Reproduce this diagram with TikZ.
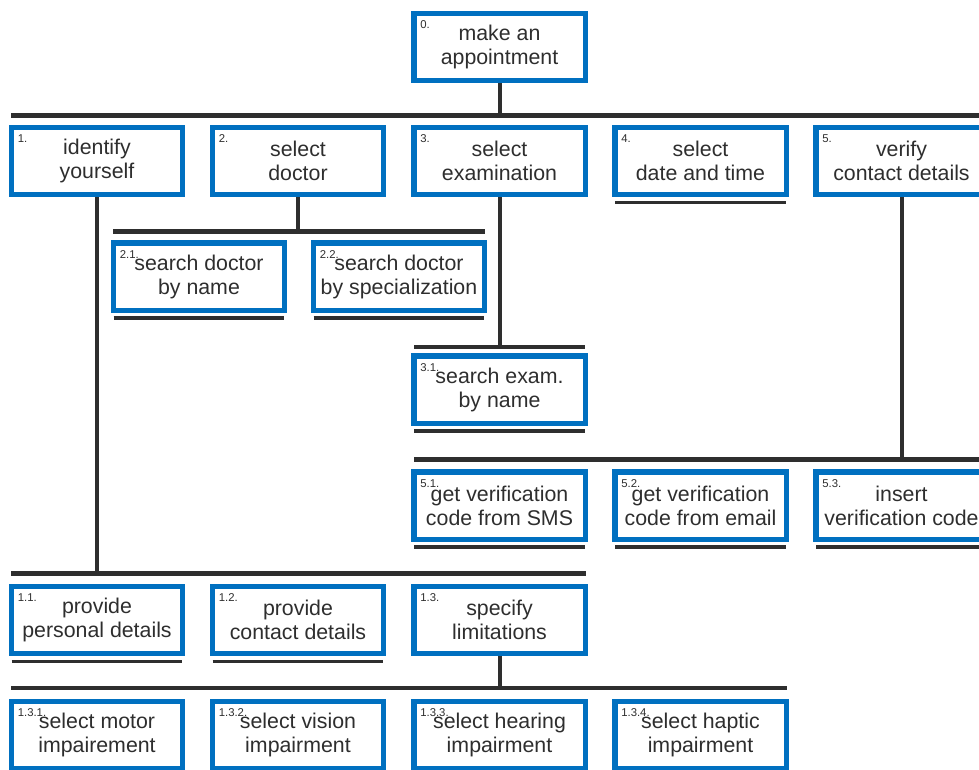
\documentclass[tikz,border=0pt]{standalone}
\usepackage{fontspec}
\setmainfont{Liberation Sans}
\definecolor{wbsblue}{HTML}{0070C0}
\definecolor{wbsgray}{HTML}{2E2E2E}

\begin{document}
\begin{tikzpicture}[x=0.75pt, y=-0.75pt,
    task/.style={rectangle, draw=wbsblue, line width=4.1pt, fill=white,
      minimum width=128.6pt, minimum height=50.6pt, inner sep=0pt,
      align=center, text=wbsgray, font=\fontsize{16}{18}\selectfont},
    num/.style={anchor=north west, inner sep=0pt, text=wbsgray,
      font=\fontsize{8.5}{9}\selectfont, shift={(9,10)}},
    bar/.style={draw=wbsgray, line width=3.4pt},
    stem/.style={draw=wbsgray, line width=3pt},
    uline/.style={draw=wbsgray, line width=2.3pt}]
  \useasboundingbox (0,0) rectangle (979,769);

  \node[task, label={[num,name=l0]north west:0.}] (b0) at (499.5,47) {make an\\appointment};

  \node[task, label={[num,name=l1]north west:1.}] (b1) at (97,161) {identify\\yourself};
  \node[task, label={[num,name=l2]north west:2.}] (b2) at (298,161) {select\\doctor};
  \node[task, label={[num,name=l3]north west:3.}] (b3) at (499.5,161) {select\\examination};
  \node[task, label={[num,name=l4]north west:4.}] (b4) at (700.5,161) {select\\date and time};
  \node[task, label={[num,name=l5]north west:5.}] (b5) at (901.5,161) {verify\\contact details};

  \node[task, label={[num,name=l21]north west:2.1.}] (b21) at (199,276.5) {search doctor\\by name};
  \node[task, label={[num,name=l22]north west:2.2.}] (b22) at (399,276.5) {search doctor\\by specialization};

  \node[task, label={[num,name=l31]north west:3.1.}] (b31) at (499.5,389.5) {search exam.\\by name};

  \node[task, label={[num,name=l51]north west:5.1.}] (b51) at (499.5,505.5) {get verification\\code from SMS};
  \node[task, label={[num,name=l52]north west:5.2.}] (b52) at (700.5,505.5) {get verification\\code from email};
  \node[task, label={[num,name=l53]north west:5.3.}] (b53) at (901.5,505.5) {insert\\verification code};

  \node[task, label={[num,name=l11]north west:1.1.}] (b11) at (97,620) {provide\\personal details};
  \node[task, label={[num,name=l12]north west:1.2.}] (b12) at (298,620) {provide\\contact details};
  \node[task, label={[num,name=l13]north west:1.3.}] (b13) at (499.5,620) {specify\\limitations};

  \node[task, label={[num,name=l131]north west:1.3.1.}] (b131) at (97,735) {select motor\\impairement};
  \node[task, label={[num,name=l132]north west:1.3.2.}] (b132) at (298,735) {select vision\\impairment};
  \node[task, label={[num,name=l133]north west:1.3.3.}] (b133) at (499.5,735) {select hearing\\impairment};
  \node[task, label={[num,name=l134]north west:1.3.4.}] (b134) at (700.5,735) {select haptic\\impairment};

  \coordinate (r0w) at (11,115.5);  \coordinate (r0e) at (990,115.5);
  \coordinate (r2w) at (113,231.5); \coordinate (r2e) at (485,231.5);
  \coordinate (r3w) at (414,347);   \coordinate (r3e) at (585,347);
  \coordinate (r5w) at (414,459.5); \coordinate (r5e) at (990,459.5);
  \coordinate (r1w) at (11,573.5);  \coordinate (r1e) at (586,573.5);
  \coordinate (r13w) at (11,688);   \coordinate (r13e) at (787,688);

  \draw[bar] (r0w) -- (r0e);
  \draw[bar] (r2w) -- (r2e);
  \draw[bar] (r3w) -- (r3e);
  \draw[bar] (r5w) -- (r5e);
  \draw[bar] (r1w) -- (r1e);
  \draw[bar] (r13w) -- (r13e);

  \draw[stem] (b0.south) -- (b0.south |- r0w);
  \draw[stem] (b2.south) -- (b2.south |- r2w);
  \draw[stem] (b3.south) -- (b3.south |- r3w);
  \draw[stem] (b5.south) -- (b5.south |- r5w);
  \draw[stem] (b1.south) -- (b1.south |- r1w);
  \draw[stem] (b13.south) -- (b13.south |- r13w);

  \foreach \n in {b4,b21,b22,b31,b51,b52,b53,b11,b12}
    \draw[uline] ([shift={(3,5)}]\n.south west) -- ([shift={(-3,5)}]\n.south east);
\end{tikzpicture}
\end{document}
